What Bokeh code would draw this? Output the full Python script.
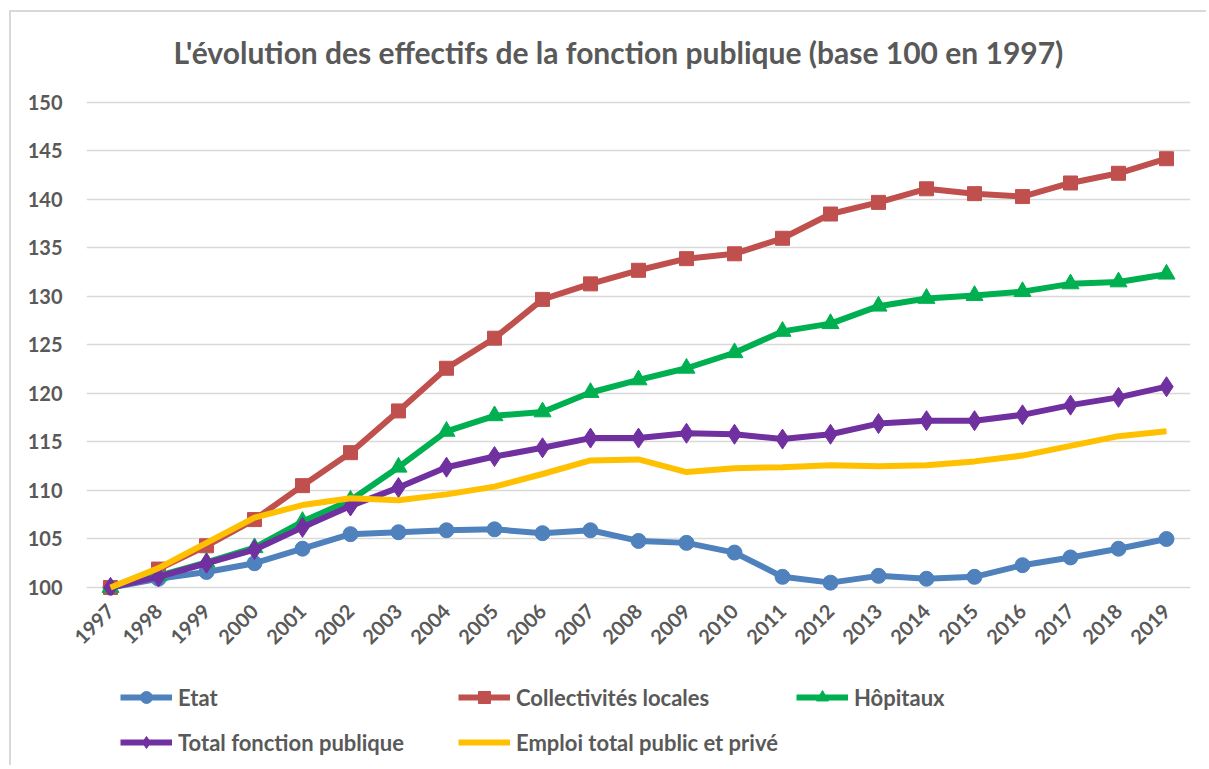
from bokeh.plotting import figure
from bokeh.models import FactorRange, Range1d, Legend, LegendItem, FixedTicker
from bokeh.layouts import column
from bokeh.embed import file_html
from bokeh.resources import INLINE
import math

years = ["1997", "1998", "1999", "2000", "2001", "2002", "2003", "2004", "2005", "2006", "2007",
         "2008", "2009", "2010", "2011", "2012", "2013", "2014", "2015", "2016", "2017", "2018", "2019"]

etat = [100, 100.9, 101.6, 102.5, 104.0, 105.5, 105.7, 105.9, 106.0, 105.6, 105.9,
        104.8, 104.6, 103.6, 101.1, 100.5, 101.2, 100.9, 101.1, 102.3, 103.1, 104.0, 105.0]
collectivites = [100, 101.9, 104.3, 107.0, 110.5, 113.9, 118.2, 122.6, 125.7, 129.7, 131.3,
                 132.7, 133.9, 134.4, 136.0, 138.5, 139.7, 141.1, 140.6, 140.3, 141.7, 142.7, 144.2]
hopitaux = [100, 101.2, 102.6, 104.1, 106.8, 109.0, 112.4, 116.1, 117.7, 118.1, 120.1,
            121.4, 122.6, 124.2, 126.4, 127.2, 129.0, 129.8, 130.1, 130.5, 131.3, 131.5, 132.3]
total_fp = [100, 101.1, 102.5, 103.9, 106.2, 108.4, 110.3, 112.4, 113.5, 114.4, 115.4,
            115.4, 115.9, 115.8, 115.3, 115.8, 116.9, 117.2, 117.2, 117.8, 118.8, 119.6, 120.7]
emploi_total = [100, 102.0, 104.6, 107.2, 108.5, 109.2, 109.0, 109.6, 110.4, 111.7, 113.1,
                113.2, 111.9, 112.3, 112.4, 112.6, 112.5, 112.6, 113.0, 113.6, 114.6, 115.6, 116.1]

y_ticks = [100, 105, 110, 115, 120, 125, 130, 135, 140, 145, 150]

TXT = "#595959"
FONT = "Lato"

series = [
    ("Etat", etat, "#4F81BD", "circle", 15),
    ("Collectivités locales", collectivites, "#C0504D", "square", 14),
    ("Hôpitaux", hopitaux, "#00B050", "triangle", 17),
    ("Total fonction publique", total_fp, "#7030A0", "diamond", 20),
    ("Emploi total public et privé", emploi_total, "#FFC000", None, 0),
]

# ---- main chart ----
p = figure(x_range=FactorRange(*years, range_padding=0), y_range=Range1d(99.175, 151.44),
           width=1195, height=653, output_backend="svg", toolbar_location=None,
           min_border_left=75, min_border_right=16, min_border_top=76, min_border_bottom=70,
           title="L'évolution des effectifs de la fonction publique (base 100 en 1997)")

p.title.text_font = FONT
p.title.text_font_size = "30px"
p.title.text_font_style = "bold"
p.title.text_color = TXT
p.title.align = "left"
p.title.offset = 87
p.title.standoff = 38

p.outline_line_color = None
p.xgrid.grid_line_color = None
p.ygrid.ticker = FixedTicker(ticks=y_ticks)
p.ygrid.grid_line_color = "#d9d9d9"
p.ygrid.grid_line_width = 1.5
p.yaxis.ticker = FixedTicker(ticks=y_ticks)

for ax in (p.xaxis[0], p.yaxis[0]):
    ax.axis_line_color = None
    ax.major_tick_line_color = None
    ax.minor_tick_line_color = None
    ax.major_label_text_font = FONT
    ax.major_label_text_font_size = "20px"
    ax.major_label_text_font_style = "bold"
    ax.major_label_text_color = TXT
p.yaxis.major_label_standoff = 18
p.xaxis.major_label_orientation = math.pi / 4
p.xaxis.major_label_standoff = 6

for name, vals, col, mk, sz in series:
    p.line(years, vals, line_color=col, line_width=6)
    if mk:
        p.scatter(years, vals, marker=mk, size=sz, fill_color=col, line_color=col)

# ---- legend strip (same series, drawn out of view; only the legend shows) ----
lf = figure(x_range=FactorRange(*years, range_padding=0), y_range=Range1d(0, 1),
            width=1195, height=100, output_backend="svg", toolbar_location=None,
            min_border=0, x_axis_location=None, y_axis_location=None)
lf.outline_line_color = None
lf.xgrid.grid_line_color = None
lf.ygrid.grid_line_color = None

items = []
for name, vals, col, mk, sz in series:
    r = [lf.line(years, vals, line_color=col, line_width=6)]
    if mk:
        r.append(lf.scatter(years, vals, marker=mk, size=sz, fill_color=col, line_color=col))
    items.append(LegendItem(label=name, renderers=r))

legend = Legend(items=items, ncols=3, location=(34, 8), orientation="horizontal")
legend.border_line_color = None
legend.background_fill_alpha = 0
legend.label_text_font = FONT
legend.label_text_font_size = "22px"
legend.label_text_font_style = "bold"
legend.label_text_color = TXT
legend.glyph_width = 52
legend.glyph_height = 30
legend.label_height = 30
legend.label_standoff = 6
legend.spacing = 15
legend.label_width = 265
legend.margin = 0
legend.padding = 0
lf.add_layout(legend, "center")

layout = column(p, lf, spacing=0)
layout.styles = {"margin-left": "9px", "margin-top": "10px",
                 "border-top": "2px solid #d9d9d9", "border-left": "2px solid #d9d9d9"}

open("out.html", "w").write(file_html(layout, INLINE))
